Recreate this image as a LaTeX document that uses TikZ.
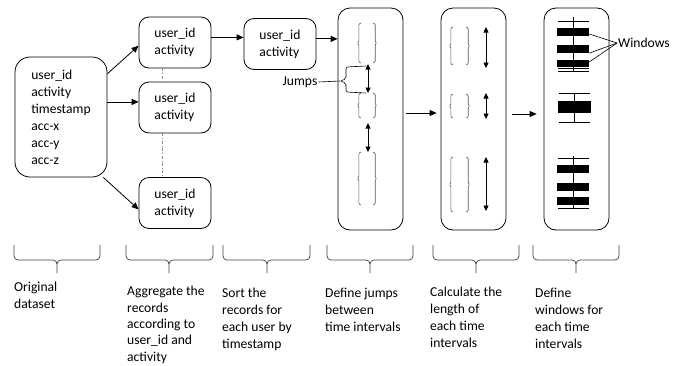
\documentclass[tikz,border=0pt]{standalone}
\usepackage{fontspec}
\setmainfont{Carlito}
\usetikzlibrary{arrows.meta,calc}

% a pair of thin brackets marking one time interval: x-left, x-right, y-top, y-bottom
\newcommand\ivpair[4]{%
  \draw[ivline] ({#1+3},#3) -- ({#1+0.8},{#3+1.2}) -- ({#1+0.8},{(#3+#4)/2-1.2})
    -- ({#1-0.8},{(#3+#4)/2}) -- ({#1+0.8},{(#3+#4)/2+1.2}) -- ({#1+0.8},{#4-1.2}) -- ({#1+3},#4);
  \draw[ivline] ({#2-3},#3) -- ({#2-0.8},{#3+1.2}) -- ({#2-0.8},{(#3+#4)/2-1.2})
    -- ({#2+0.8},{(#3+#4)/2}) -- ({#2-0.8},{(#3+#4)/2+1.2}) -- ({#2-0.8},{#4-1.2}) -- ({#2-3},#4);
}
% an under-brace: x-left, x-right, x-tip
\newcommand\ubrace[3]{%
  \draw[brc] (#1,245) -- (#1,256) to[out=-90,in=180] ({#1+4},260) -- ({#3-4},260)
    to[out=0,in=90] (#3,264) -- (#3,273);
  \draw[brc] (#3,264) to[out=90,in=180] ({#3+4},260) -- ({#2-4},260)
    to[out=0,in=-90] (#2,256) -- (#2,245);
}

\begin{document}
\begin{tikzpicture}[x=1pt,y=-1pt,
  every node/.style={font=\fontsize{13.6}{17}\selectfont},
  box/.style={draw, line width=0.8pt, rounded corners=10pt, align=left, inner sep=0pt},
  smallbox/.style={box, minimum width=72pt, minimum height=51pt},
  tallbox/.style={box, rounded corners=12pt, minimum width=65pt, minimum height=222pt},
  flow/.style={line width=0.8pt, -{Triangle[length=7pt,width=6pt]}},
  dbl/.style={line width=0.7pt, {Triangle[length=5.5pt,width=5pt]}-{Triangle[length=5.5pt,width=5pt]}},
  ivline/.style={draw=black!65, line width=0.6pt, rounded corners=0.8pt},
  whisk/.style={line width=0.7pt},
  bar/.style={fill=black, inner sep=0pt, minimum width=32pt, minimum height=8pt},
  brc/.style={draw=black!75, line width=0.7pt},
  lbl/.style={align=left, inner sep=0pt, anchor=north west},
  thin/.style={line width=0.6pt}
]
\useasboundingbox (0,0) rectangle (676,365);

% data boxes
\node[box, rounded corners=15pt, minimum width=92pt, minimum height=120pt] (orig) at (61,117)
  {user\_id\\activity\\timestamp\\acc-x\\acc-y\\acc-z};
\node[smallbox] (g1) at (175,42.5) {user\_id\\activity};
\node[smallbox] (g2) at (175,107.5) {user\_id\\activity};
\node[smallbox] (g3) at (175,203) {user\_id\\activity};
\node[smallbox] (srt) at (280,44) {user\_id\\activity};
\node[tallbox] (jmp) at (370.5,119) {};
\node[tallbox] (len) at (473.5,119) {};
\node[tallbox] (win) at (576.5,119) {};

% flow between steps
\draw[flow] (orig.43) -- (g1.185);
\draw[flow] (orig.18) -- (orig.18 -| g2.west);
\draw[flow] (orig.-55) -- (g3.190);
\draw[flow] (g1.8) -- (g1.8 -| srt.west);
\draw[flow] (srt.8) -- (srt.8 -| jmp.west);
\draw[flow] ([xshift=3pt,yshift=6pt]jmp.east) -- ([xshift=-4pt,yshift=6pt]len.west);
\draw[flow] ([xshift=6pt,yshift=5pt]len.east) -- ([xshift=-7pt,yshift=5pt]win.west);

% groups continue between the aggregated boxes
\draw[black!45, dash dot, line width=0.7pt] ([xshift=-13pt]g1.south) -- ([xshift=-13pt]g2.north);
\draw[black!45, dash dot, line width=0.7pt] ([xshift=-13pt]g2.south) -- ([xshift=-13pt]g3.north);

% intervals and jumps
\ivpair{358}{376}{23}{63}
\ivpair{358}{376}{93}{118}
\ivpair{358}{376}{152}{205}
\draw[dbl] (368,64) -- (368,93);
\draw[dbl] (368,123) -- (368,152);

\node[inner sep=1pt] (jlab) at (300,82) {Jumps};
\coordinate (jtip) at (340,81);
\draw[thin] (jlab.east) -- (jtip);
\draw[thin, rounded corners=2pt] (366,66) -- (346,67) -- (346,79) -- (jtip) -- (346,83) -- (346,92) -- (366,93);

% interval lengths
\ivpair{450}{469}{27}{65}
\ivpair{450}{469}{94}{118}
\ivpair{450}{469}{157}{212}
\draw[dbl] (486,27) -- (486,68);
\draw[dbl] (486,93) -- (486,119);
\draw[dbl] (486,157) -- (486,211);

% windows
\draw[whisk] (573,17) -- (573,72);
\draw[whisk] (558,21) -- (589,21);
\draw[whisk] (558,68) -- (589,68);
\draw[whisk] (558,71) -- (589,71);
\node[bar] (w1) at (573,32) {};
\node[bar] (w2) at (573,49) {};
\node[bar, minimum height=7pt] (w3) at (573,63.5) {};

\draw[whisk] (574,93) -- (574,122);
\draw[whisk] (559,93) -- (590,93);
\draw[whisk] (559,122) -- (590,122);
\node[bar, minimum width=33pt, minimum height=12pt] (w4) at (574.5,107) {};

\draw[whisk] (573,156) -- (573,209);
\draw[whisk] (558,158) -- (589,158);
\draw[whisk] (558,208) -- (589,208);
\node[bar] (w5) at (573,169) {};
\node[bar] (w6) at (573,187) {};
\node[bar] (w7) at (573,201) {};

\node[inner sep=1pt] (wlab) at (644,43) {Windows};
\draw[thin] (wlab.west) -- ([yshift=-2pt]w1.east);
\draw[thin] (wlab.west) -- (w2.south east);
\draw[thin] (wlab.west) -- ([yshift=1.5pt]w3.east);

% step braces and captions
\ubrace{14}{100}{57}
\ubrace{126}{213}{169}
\ubrace{223}{310}{267}
\ubrace{327}{413}{370}
\ubrace{433}{519}{476}
\ubrace{533}{619}{576}

\node[lbl] (c1) at (14,281.5) {Original\\dataset};
\node[lbl, font=\fontsize{13.6}{16.4}\selectfont] (c2) at (127,286) {Aggregate the\\records\\according to\\user\_id and\\activity};
\node[lbl] (c3) at (222,287.5) {Sort the\\records for\\each user by\\timestamp};
\node[lbl] (c4) at (325,287.5) {Define jumps\\between\\time intervals};
\node[lbl] (c5) at (430,286.5) {Calculate the\\length of\\each time\\intervals};
\node[lbl] (c6) at (535,287.5) {Define\\windows for\\each time\\intervals};
\end{tikzpicture}
\end{document}
